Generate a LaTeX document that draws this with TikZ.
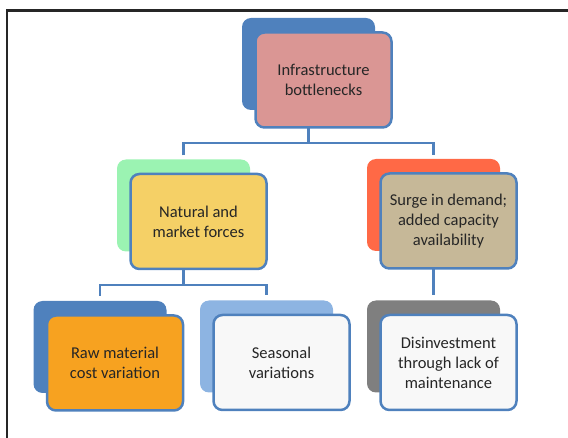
\documentclass[tikz,border=0pt]{standalone}
\usepackage{fontspec}
\setmainfont{Carlito}
\usepackage{tikz}
\usetikzlibrary{positioning}
\definecolor{officeblue}{RGB}{79,129,189}
\definecolor{lightblue}{RGB}{141,180,226}
\definecolor{mint}{RGB}{155,243,178}
\definecolor{tomato}{RGB}{255,105,70}
\definecolor{midgray}{RGB}{127,127,127}
\definecolor{rosefill}{RGB}{218,150,148}
\definecolor{sunfill}{RGB}{245,208,102}
\definecolor{khakifill}{RGB}{198,184,152}
\definecolor{orangefill}{RGB}{247,162,32}
\definecolor{paperfill}{RGB}{248,248,248}
\tikzstyle{back}=[rectangle,rounded corners=9pt,minimum width=133pt,minimum height=92pt,draw=none]
\tikzstyle{front}=[rectangle,rounded corners=9pt,minimum width=136pt,minimum height=95pt,draw=officeblue,line width=2.5pt,align=center,text=black!85]
\tikzstyle{link}=[draw=officeblue,line width=2.5pt]
\tikzstyle{every node}=[font=\fontsize{16.5}{20}\selectfont]

\begin{document}
\begin{tikzpicture}[x=1pt,y=-1pt]
  \useasboundingbox (0,0) rectangle (568,438);
  \draw[line width=2.5pt, black!85] (7,438) -- (7,10.5) -- (568,10.5);
  % back boxes
  \node[back, fill=officeblue] (infra) at (308.5,64) {};
  \node[back, fill=mint, below of=infra, node distance=141.5pt, xshift=-125pt] (natural) {};
  \node[back, fill=tomato, below of=infra, node distance=141pt, xshift=125pt] (surge) {};
  \node[back, fill=officeblue, below of=natural, node distance=141.5pt, xshift=-83.5pt] (raw) {};
  \node[back, fill=lightblue, below of=natural, node distance=141pt, xshift=83pt] (seasonal) {};
  \node[back, fill=midgray, below of=surge, node distance=141.5pt] (disinvest) {};
  % connectors
  \coordinate (busTop) at (0,143);
  \coordinate (busBot) at (0,285);
  \draw[link] (infra.south) -- (infra.south |- busTop) coordinate (splitTop);
  \draw[link, shorten <=4pt, shorten >=4pt] (natural.north) |- (splitTop) -| (surge.north);
  \draw[link] (natural.south) -- (natural.south |- busBot) coordinate (splitBot);
  \draw[link, shorten <=5pt, shorten >=5pt] (raw.north) |- (splitBot) -| (seasonal.north);
  \draw[link, shorten >=5pt] (surge.south) -- (disinvest.north);
  % front boxes
  \node[front, fill=rosefill] (infraF) at ([shift={(15,16)}]infra) {Infrastructure\\bottlenecks};
  \node[front, fill=sunfill] (naturalF) at ([shift={(15,16)}]natural) {Natural and\\market forces};
  \node[front, fill=khakifill] (surgeF) at ([shift={(15,16)}]surge) {Surge in demand;\\added capacity\\availability};
  \node[front, fill=orangefill] (rawF) at ([shift={(15,16)}]raw) {Raw material\\cost variation};
  \node[front, fill=paperfill] (seasonalF) at ([shift={(15,16)}]seasonal) {Seasonal\\variations};
  \node[front, fill=paperfill] (disinvestF) at ([shift={(15,16)}]disinvest) {Disinvestment\\through lack of\\maintenance};
\end{tikzpicture}
\end{document}
